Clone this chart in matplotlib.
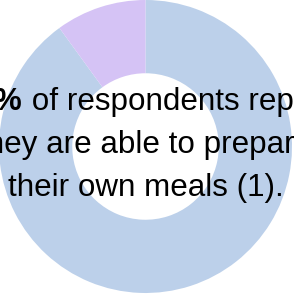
import matplotlib
matplotlib.use('Agg')
import matplotlib.pyplot as plt

# donut data
labels = ['Able to prepare own meals', 'Not able']
shares = [90, 10]
colors = ['#bcd0ea', '#d5c3f5']

# centre text, first piece of line 1 is bold
bold_part = '90%'
lines = [' of respondents report', 'they are able to prepare', 'their own meals (1).']

W, H = 294, 296
fig = plt.figure(figsize=(W / 100, H / 100), dpi=100)
ax = fig.add_axes([0, 0, 1, 1])

cx, cy, r = 145.5, H - 146.5, 146.5
ax.pie(shares, colors=colors, startangle=90, counterclock=False,
       center=(cx, cy), radius=r,
       wedgeprops=dict(width=r * 0.5, linewidth=0))
ax.set_xlim(0, W)
ax.set_ylim(0, H)
ax.set_aspect('auto')
ax.axis('off')

fs = 22.6
font = 'Liberation Sans'
baselines = [110, 153, 196]

renderer = fig.canvas.get_renderer()
t1 = ax.text(0, H - baselines[0], bold_part, fontsize=fs, family=font,
             fontweight='bold', va='baseline', ha='left')
t2 = ax.text(0, H - baselines[0], lines[0], fontsize=fs, family=font,
             va='baseline', ha='left')
w1 = t1.get_window_extent(renderer).width
w2 = t2.get_window_extent(renderer).width
x0 = cx - (w1 + w2) / 2
t1.set_x(x0)
t2.set_x(x0 + w1)

for txt, b in zip(lines[1:], baselines[1:]):
    ax.text(cx, H - b, txt, fontsize=fs, family=font,
            va='baseline', ha='center')

plt.savefig('out.png', dpi=100)
